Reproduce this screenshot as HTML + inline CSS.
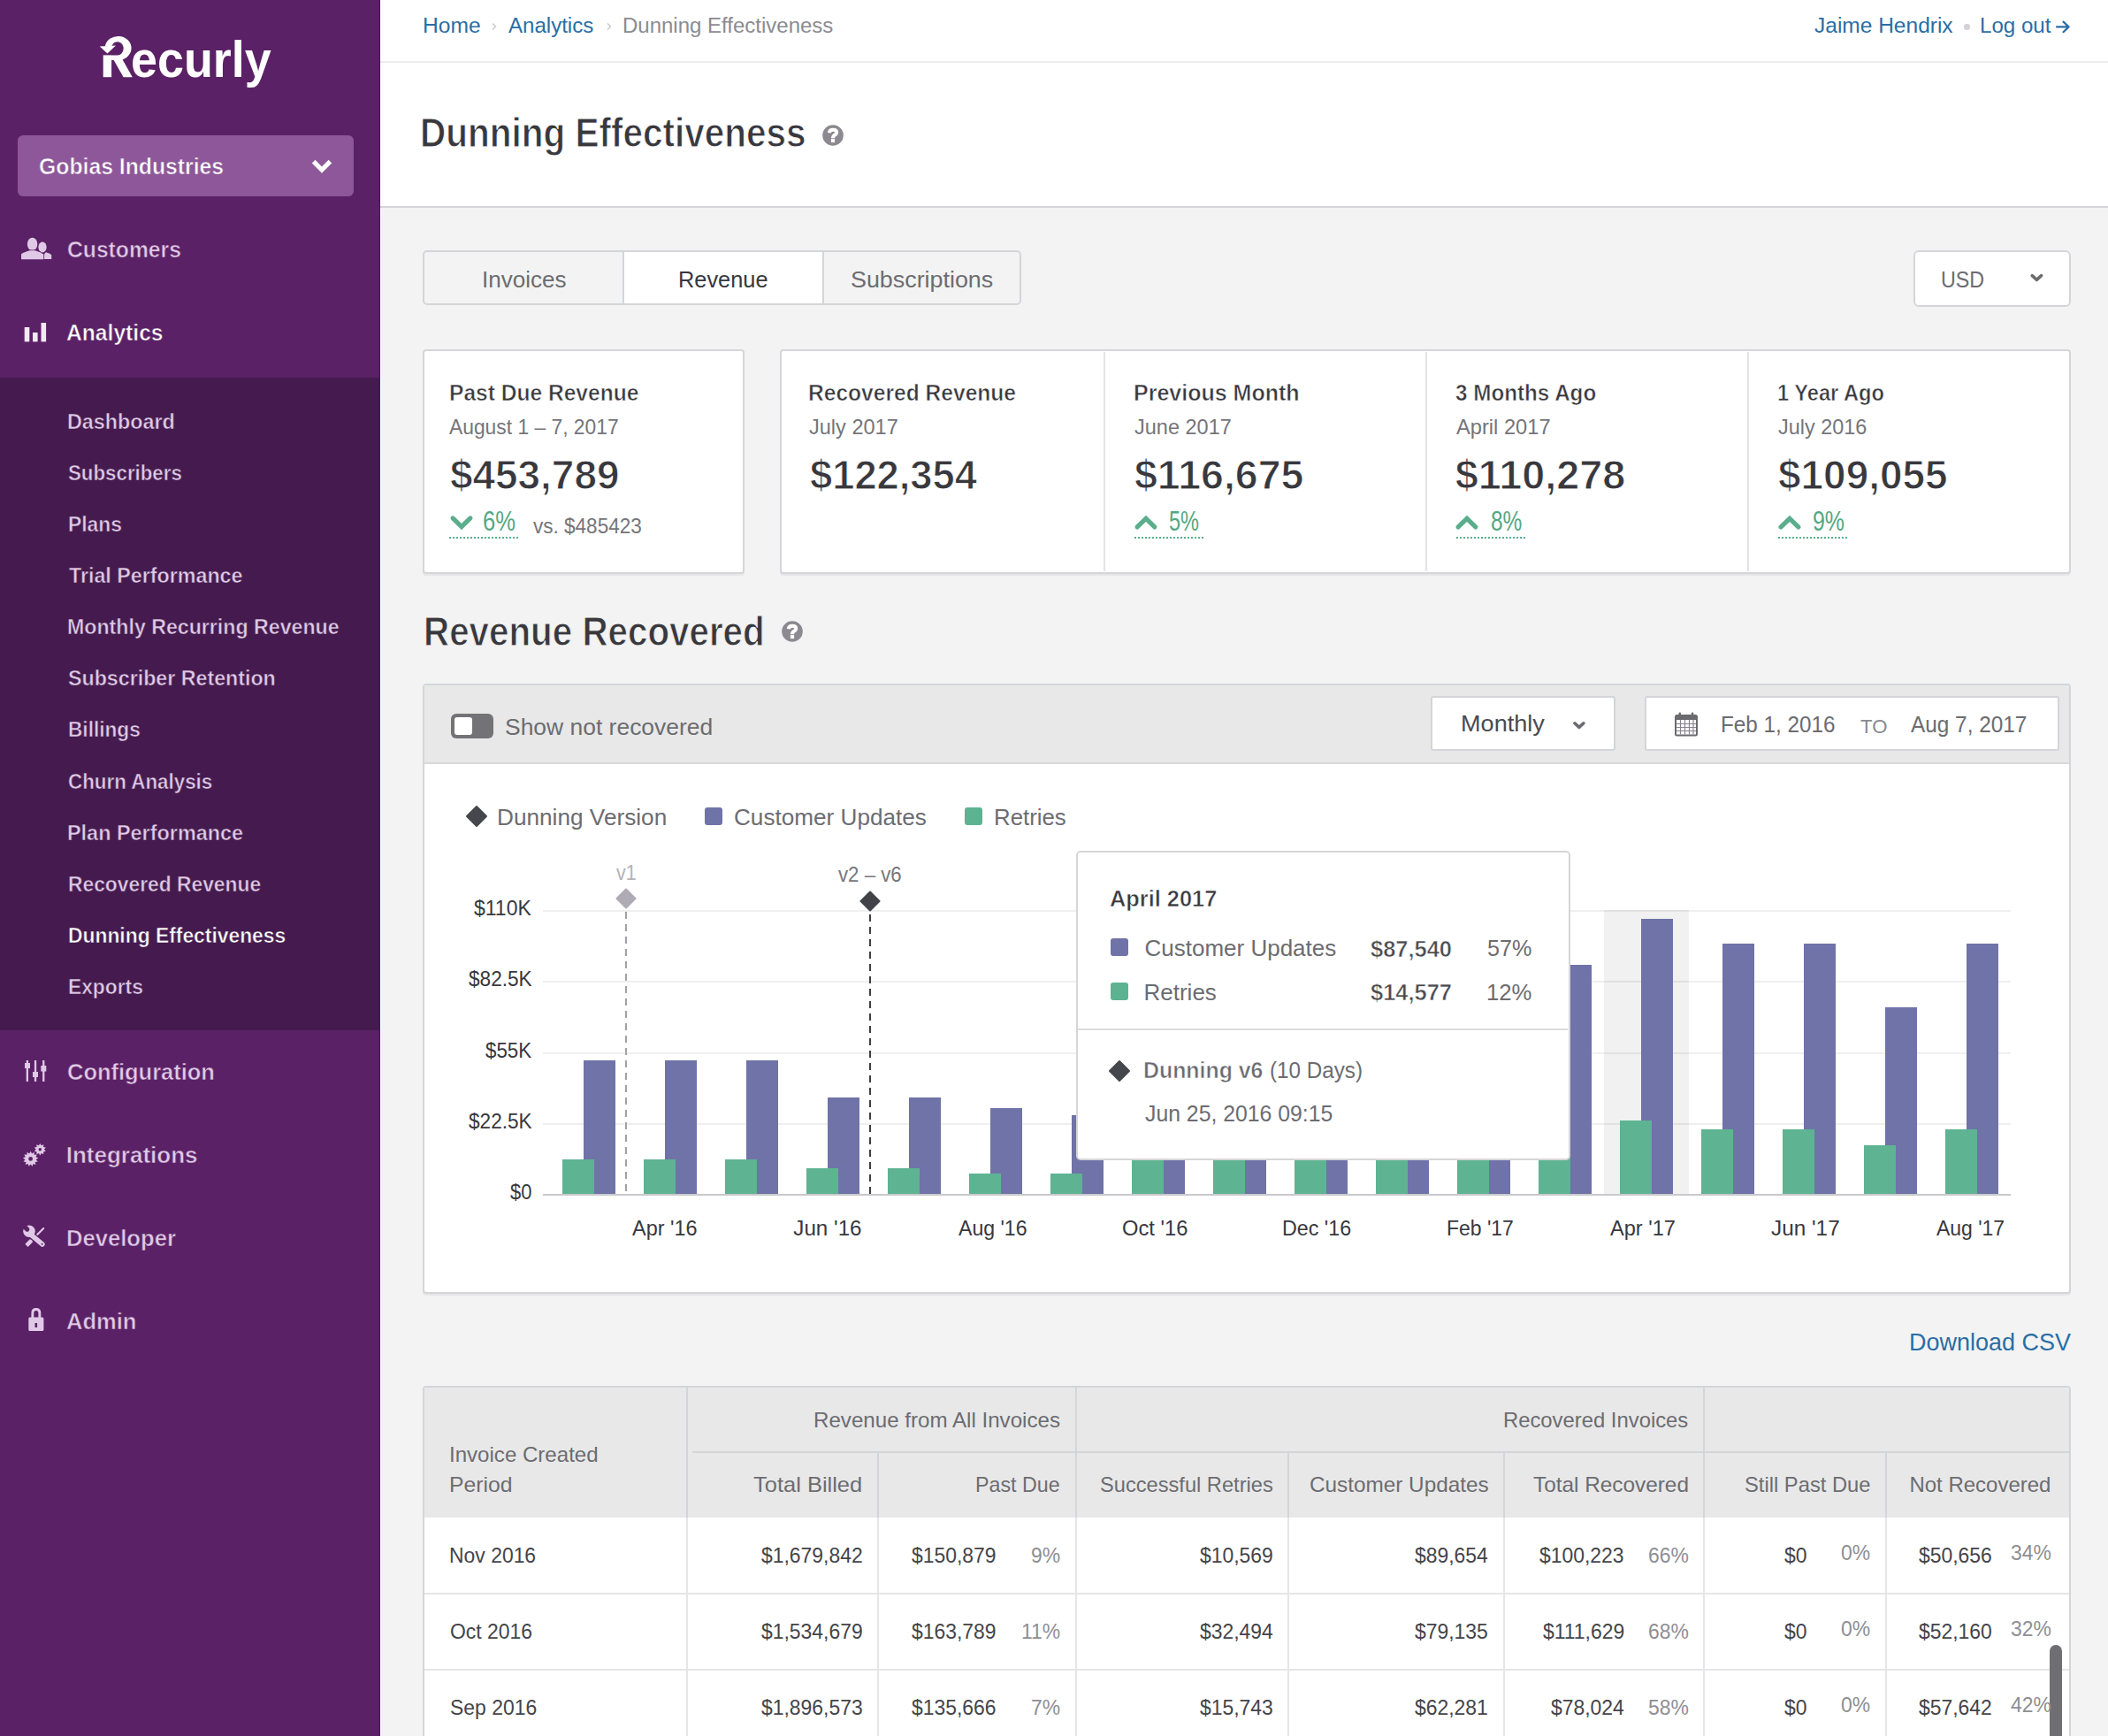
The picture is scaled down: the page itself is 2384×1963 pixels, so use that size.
<!DOCTYPE html><html><head><meta charset="utf-8"><title>Dunning Effectiveness</title><style>
*{margin:0;padding:0;box-sizing:border-box}
html,body{width:2384px;height:1963px;overflow:hidden}
body{position:relative;background:#f3f3f3;font-family:"Liberation Sans",sans-serif}
.a{position:absolute}
.t{position:absolute;white-space:nowrap;line-height:1;transform-origin:0 0;font-family:"Liberation Sans",sans-serif}
svg{position:absolute;overflow:visible}
</style></head><body>
<div class="a" style="left:0px;top:0px;width:430px;height:1963px;background:#5b2166"></div>
<div class="a" style="left:0px;top:427px;width:430px;height:738px;background:#451b4f"></div>
<div class="a" style="left:429px;top:0px;width:1px;height:1963px;background:#4f1659"></div>
<div class="a" style="left:430px;top:0px;width:1px;height:1963px;background:#ffffff"></div>
<div class="a" style="left:430px;top:0px;width:1954px;height:233px;background:#ffffff"></div>
<div class="a" style="left:430px;top:69px;width:1954px;height:2px;background:#ededed"></div>
<div class="a" style="left:430px;top:233px;width:1954px;height:2px;background:#d4d5d8"></div>
<div class="a" style="left:20px;top:153px;width:380px;height:69px;background:#8d5799;border-radius:6px"></div>
<svg style="left:0;top:0" width="1" height="1"><polyline points="354.6,182.7 364,192.1 373.4,182.7" fill="none" stroke="#fff" stroke-width="5.2" stroke-linecap="butt" stroke-linejoin="miter"/></svg>
<svg style="left:0;top:0" width="1" height="1"><g fill="#fff">
<rect x="116.7" y="62.4" width="9.4" height="24.8"/>
<path d="M127.5,66 L137.8,66 L149.8,87.2 L139.6,87.2 Z"/>
<path d="M118.8,52 A15,13.6 0 1 1 133.5,68.1 L126,68.1 L126,62.4 L133,62.4 A6.9,7.6 0 1 0 126.4,52 Z"/>
<path d="M112.8,52.6 L131,51.6 L121.4,60.6 Z"/>
</g></svg>
<div class="t" style="left:148px;top:39.3px;font-size:57px;font-weight:700;color:#fff;transform:scaleX(0.945)">ecurly</div>
<svg style="left:0;top:0" width="1" height="1">
<g fill="#e0c9e7"><ellipse cx="48" cy="279.6" rx="4.6" ry="6"/><path d="M50,293 L50,288 Q50.5,286 52,285.2 Q56,286.4 58.2,288.3 L58.2,293 Z"/></g>
<g fill="#e0c9e7" stroke="#5b2166" stroke-width="1.6" paint-order="stroke"><ellipse cx="36.6" cy="276.1" rx="5.7" ry="7.4"/><path d="M24,293.2 L24,287.6 Q27,285 33.6,283.3 L39.6,283.3 Q46,285 49.3,287.6 L49.3,293.2 Z"/></g>
<g fill="#f3eaf5"><rect x="27.7" y="370" width="5.6" height="16.4"/><rect x="37" y="376" width="5.6" height="10.4"/><rect x="46.5" y="365" width="5.6" height="21.4"/></g>
<g fill="#e0c9e7"><rect x="29.7" y="1199" width="2.3" height="24"/><rect x="38.9" y="1199" width="2.3" height="24"/><rect x="48.1" y="1199" width="2.3" height="24"/>
<rect x="28" y="1202" width="6" height="6"/><rect x="37" y="1212" width="6" height="6"/><rect x="46.3" y="1205" width="6" height="6.5"/></g>
<path fill="#e0c9e7" fill-rule="evenodd" d="M34.60,1301.70 L36.08,1304.38 L38.64,1302.70 L38.71,1305.76 L41.76,1305.46 L40.40,1308.20 L43.24,1309.35 L40.75,1311.15 L42.73,1313.49 L39.70,1313.92 L40.37,1316.91 L37.48,1315.89 L36.68,1318.85 L34.60,1316.60 L32.52,1318.85 L31.72,1315.89 L28.83,1316.91 L29.50,1313.92 L26.47,1313.49 L28.45,1311.15 L25.96,1309.35 L28.80,1308.20 L27.44,1305.46 L30.49,1305.76 L30.56,1302.70 L33.12,1304.38 Z M32.20,1310.40 a2.40,2.40 0 1 0 4.80,0 a2.40,2.40 0 1 0 -4.80,0 Z"/><path fill="#e0c9e7" fill-rule="evenodd" d="M45.30,1292.90 L46.72,1295.33 L49.30,1294.20 L49.02,1297.00 L51.77,1297.60 L49.90,1299.70 L51.77,1301.80 L49.02,1302.40 L49.30,1305.20 L46.72,1304.07 L45.30,1306.50 L43.88,1304.07 L41.30,1305.20 L41.58,1302.40 L38.83,1301.80 L40.70,1299.70 L38.83,1297.60 L41.58,1297.00 L41.30,1294.20 L43.88,1295.33 Z M43.50,1299.70 a1.80,1.80 0 1 0 3.60,0 a1.80,1.80 0 1 0 -3.60,0 Z"/>
<g stroke="#e0c9e7" stroke-linecap="round"><line x1="30" y1="1408.3" x2="35.6" y2="1402.7" stroke-width="4.6" stroke-linecap="butt"/><line x1="35" y1="1403.3" x2="49.2" y2="1389.1" stroke-width="2.1"/></g>
<g fill="#e0c9e7" stroke="#5b2166" stroke-width="1.3" paint-order="stroke"><path d="M37,1396 L48.6,1407.3" stroke="none"/></g>
<line x1="35.5" y1="1396.6" x2="47.8" y2="1406.9" stroke="#5b2166" stroke-width="8.3" stroke-linecap="round"/>
<circle cx="33" cy="1392.3" r="8" fill="#5b2166"/>
<line x1="35.5" y1="1396.6" x2="47.8" y2="1406.9" stroke="#e0c9e7" stroke-width="5.7" stroke-linecap="round"/>
<circle cx="33" cy="1392.3" r="6.8" fill="#e0c9e7"/>
<circle cx="47.6" cy="1406.8" r="1" fill="#5b2166"/>
<path d="M26.92,1382.54 L32.58,1388.2 A2.6,2.6 0 0 1 28.9,1391.88 L23.24,1386.22 Z" fill="#5b2166"/>
<g fill="#e0c9e7"><rect x="32.3" y="1489.6" width="17.1" height="15.4" rx="1.5"/><path d="M35.4,1490 L35.4,1484.5 Q35.4,1479 40.8,1479 Q46.3,1479 46.3,1484.5 L46.3,1490 L43.4,1490 L43.4,1485 Q43.4,1482 40.8,1482 Q38.3,1482 38.3,1485 L38.3,1490 Z"/></g>
<rect x="39.5" y="1496" width="2.6" height="5" fill="#5b2166"/>
</svg>
<svg style="left:0;top:0" width="1" height="1"><path d="M557,26.5 L560.5,30 L557,33.5 M687,26.5 L690.5,30 L687,33.5" fill="none" stroke="#cdcdd1" stroke-width="1.6"/></svg>
<div class="a" style="left:2221px;top:27px;width:6.5px;height:6.5px;background:#d3d3d6;border-radius:50%"></div>
<svg style="left:0;top:0" width="1" height="1"><g fill="none" stroke="#2a6ea5" stroke-width="2.2" stroke-linecap="round" stroke-linejoin="round"><path d="M2326,30.4 L2339.5,30.4 M2333.5,24.6 L2339.6,30.4 L2333.5,36.2"/></g></svg>
<svg style="left:0;top:0" width="1" height="1"><circle cx="942" cy="153" r="11.8" fill="#8c8990"/><path d="M937.8,150.3 Q938.2,146.7 942,146.7 Q946.2,146.7 946.2,149.7 Q946.2,151.4 943.9,152.7 Q942,153.8 942,156.2" fill="none" stroke="#fff" stroke-width="4"/><rect x="939.9" y="157.1" width="4.2" height="4" fill="#fff"/></svg>
<svg style="left:0;top:0" width="1" height="1"><circle cx="896" cy="714" r="11.8" fill="#8c8990"/><path d="M891.8,711.3 Q892.2,707.7 896,707.7 Q900.2,707.7 900.2,710.7 Q900.2,712.4 897.9,713.7 Q896,714.8 896,717.2" fill="none" stroke="#fff" stroke-width="4"/><rect x="893.9" y="718.1" width="4.2" height="4" fill="#fff"/></svg>
<div class="a" style="left:478px;top:283px;width:677px;height:62px;border:2px solid #d4d5d8;border-radius:5px;background:#f3f3f3"></div>
<div class="a" style="left:705px;top:285px;width:226px;height:58px;background:#fff"></div>
<div class="a" style="left:704px;top:285px;width:2px;height:58px;background:#d4d5d8"></div>
<div class="a" style="left:930px;top:285px;width:2px;height:58px;background:#d4d5d8"></div>
<div class="a" style="left:2164px;top:283px;width:178px;height:64px;border:2px solid #d4d5d8;border-radius:6px;background:#fff"></div>
<svg style="left:0;top:0" width="1" height="1"><polyline points="2298.2,311.7 2303.4,316.4 2308.6,311.7" fill="none" stroke="#6c6c70" stroke-width="3.6" stroke-linecap="round" stroke-linejoin="round"/></svg>
<div class="a" style="left:478px;top:395px;width:364px;height:254px;border:2px solid #d4d5d8;border-radius:4px;background:#fff;box-shadow:0 2px 0 #e6e6e7"></div>
<div class="a" style="left:882px;top:395px;width:1460px;height:254px;border:2px solid #d4d5d8;border-radius:4px;background:#fff;box-shadow:0 2px 0 #e6e6e7"></div>
<div class="a" style="left:1248px;top:398px;width:2px;height:248px;background:#e3e3e5"></div>
<div class="a" style="left:1612px;top:398px;width:2px;height:248px;background:#e3e3e5"></div>
<div class="a" style="left:1976px;top:398px;width:2px;height:248px;background:#e3e3e5"></div>
<svg style="left:0;top:0" width="1" height="1"><polyline points="512.1,585.9 522,595.6 531.9,585.9" fill="none" stroke="#5aae8c" stroke-width="5.2" stroke-linecap="round"/></svg>
<svg style="left:0;top:0" width="1" height="1"><polyline points="1286.1,595.9 1296,586.3 1305.8,595.9" fill="none" stroke="#5aae8c" stroke-width="5.2" stroke-linecap="round"/></svg>
<svg style="left:0;top:0" width="1" height="1"><polyline points="1649.1,595.9 1659,586.3 1668.8,595.9" fill="none" stroke="#5aae8c" stroke-width="5.2" stroke-linecap="round"/></svg>
<svg style="left:0;top:0" width="1" height="1"><polyline points="2014.1,595.9 2024,586.3 2033.8,595.9" fill="none" stroke="#5aae8c" stroke-width="5.2" stroke-linecap="round"/></svg>
<div class="a" style="left:508px;top:607px;width:78px;height:2px;background:repeating-linear-gradient(90deg,#5aae8c 0 2px,transparent 2px 4px)"></div>
<div class="a" style="left:1282.5px;top:607px;width:78px;height:2px;background:repeating-linear-gradient(90deg,#5aae8c 0 2px,transparent 2px 4px)"></div>
<div class="a" style="left:1646.5px;top:607px;width:78px;height:2px;background:repeating-linear-gradient(90deg,#5aae8c 0 2px,transparent 2px 4px)"></div>
<div class="a" style="left:2011px;top:607px;width:78px;height:2px;background:repeating-linear-gradient(90deg,#5aae8c 0 2px,transparent 2px 4px)"></div>
<div class="a" style="left:478px;top:773px;width:1864px;height:690px;border:2px solid #d4d5d8;border-radius:4px;background:#fff;box-shadow:0 2px 0 #e6e6e7"></div>
<div class="a" style="left:480px;top:775px;width:1860px;height:89px;background:#e8e8e8;border-bottom:2px solid #d8d8da;border-radius:3px 3px 0 0"></div>
<div class="a" style="left:510px;top:807px;width:48px;height:28px;background:#737377;border-radius:6px"></div>
<div class="a" style="left:514px;top:811px;width:20px;height:20px;background:#fff;border-radius:3px"></div>
<div class="a" style="left:1618px;top:787px;width:209px;height:62px;background:#fff;border:2px solid #d4d5d8;border-radius:3px"></div>
<svg style="left:0;top:0" width="1" height="1"><polyline points="1780.9,817.8 1785.9,822.4 1790.9,817.8" fill="none" stroke="#6a6a6f" stroke-width="3.6" stroke-linecap="round" stroke-linejoin="round"/></svg>
<div class="a" style="left:1860px;top:787px;width:469px;height:62px;background:#fff;border:2px solid #d4d5d8;border-radius:3px"></div>
<svg style="left:0;top:0" width="1" height="1"><g>
<rect x="1895" y="809" width="24" height="22.5" rx="1.5" fill="none" stroke="#6a6a6f" stroke-width="2"/>
<rect x="1895" y="809" width="24" height="5" fill="#6a6a6f"/>
<rect x="1898.5" y="805.5" width="2.5" height="6" rx="1.2" fill="#6a6a6f"/><rect x="1912.8" y="805.5" width="2.5" height="6" rx="1.2" fill="#6a6a6f"/>
<path d="M1900.5,814 V830.5 M1905.5,814 V830.5 M1910.5,814 V830.5 M1915,814 V830.5 M1896,818.5 H1918 M1896,822.5 H1918 M1896,826.5 H1918" stroke="#8a8290" stroke-width="1.2"/>
</g></svg>
<svg style="left:0;top:0" width="1" height="1"><path d="M539,912 L550,923 L539,934 L528,923 Z" fill="#45474c" stroke="#45474c" stroke-width="2" stroke-linejoin="round"/></svg>
<div class="a" style="left:797px;top:913px;width:20px;height:20px;background:#6f73a8;border-radius:3px"></div>
<div class="a" style="left:1091px;top:913px;width:20px;height:20px;background:#5db391;border-radius:3px"></div>
<div class="a" style="left:1814px;top:1029px;width:96px;height:322px;background:#f1f1f1"></div>
<div class="a" style="left:614px;top:1029px;width:1660px;height:2px;background:rgba(0,0,0,0.063)"></div>
<div class="a" style="left:614px;top:1109px;width:1660px;height:2px;background:rgba(0,0,0,0.063)"></div>
<div class="a" style="left:614px;top:1190px;width:1660px;height:2px;background:rgba(0,0,0,0.063)"></div>
<div class="a" style="left:614px;top:1270px;width:1660px;height:2px;background:rgba(0,0,0,0.063)"></div>
<div class="a" style="left:660px;top:1199px;width:36px;height:152px;background:#6f73a8"></div>
<div class="a" style="left:636px;top:1311px;width:36px;height:40px;background:#5eb392"></div>
<div class="a" style="left:752px;top:1199px;width:36px;height:152px;background:#6f73a8"></div>
<div class="a" style="left:728px;top:1311px;width:36px;height:40px;background:#5eb392"></div>
<div class="a" style="left:844px;top:1199px;width:36px;height:152px;background:#6f73a8"></div>
<div class="a" style="left:820px;top:1311px;width:36px;height:40px;background:#5eb392"></div>
<div class="a" style="left:936px;top:1241px;width:36px;height:110px;background:#6f73a8"></div>
<div class="a" style="left:912px;top:1321px;width:36px;height:30px;background:#5eb392"></div>
<div class="a" style="left:1028px;top:1241px;width:36px;height:110px;background:#6f73a8"></div>
<div class="a" style="left:1004px;top:1321px;width:36px;height:30px;background:#5eb392"></div>
<div class="a" style="left:1120px;top:1253px;width:36px;height:98px;background:#6f73a8"></div>
<div class="a" style="left:1096px;top:1327px;width:36px;height:24px;background:#5eb392"></div>
<div class="a" style="left:1212px;top:1261px;width:36px;height:90px;background:#6f73a8"></div>
<div class="a" style="left:1188px;top:1327px;width:36px;height:24px;background:#5eb392"></div>
<div class="a" style="left:1304px;top:1150px;width:36px;height:201px;background:#6f73a8"></div>
<div class="a" style="left:1280px;top:1290px;width:36px;height:61px;background:#5eb392"></div>
<div class="a" style="left:1396px;top:1140px;width:36px;height:211px;background:#6f73a8"></div>
<div class="a" style="left:1372px;top:1285px;width:36px;height:66px;background:#5eb392"></div>
<div class="a" style="left:1488px;top:1120px;width:36px;height:231px;background:#6f73a8"></div>
<div class="a" style="left:1464px;top:1280px;width:36px;height:71px;background:#5eb392"></div>
<div class="a" style="left:1580px;top:1130px;width:36px;height:221px;background:#6f73a8"></div>
<div class="a" style="left:1556px;top:1285px;width:36px;height:66px;background:#5eb392"></div>
<div class="a" style="left:1672px;top:1110px;width:36px;height:241px;background:#6f73a8"></div>
<div class="a" style="left:1648px;top:1285px;width:36px;height:66px;background:#5eb392"></div>
<div class="a" style="left:1764px;top:1091px;width:36px;height:260px;background:#6f73a8"></div>
<div class="a" style="left:1740px;top:1275px;width:36px;height:76px;background:#5eb392"></div>
<div class="a" style="left:1856px;top:1039px;width:36px;height:312px;background:#6f73a8"></div>
<div class="a" style="left:1832px;top:1267px;width:36px;height:84px;background:#5eb392"></div>
<div class="a" style="left:1948px;top:1067px;width:36px;height:284px;background:#6f73a8"></div>
<div class="a" style="left:1924px;top:1277px;width:36px;height:74px;background:#5eb392"></div>
<div class="a" style="left:2040px;top:1067px;width:36px;height:284px;background:#6f73a8"></div>
<div class="a" style="left:2016px;top:1277px;width:36px;height:74px;background:#5eb392"></div>
<div class="a" style="left:2132px;top:1139px;width:36px;height:212px;background:#6f73a8"></div>
<div class="a" style="left:2108px;top:1295px;width:36px;height:56px;background:#5eb392"></div>
<div class="a" style="left:2224px;top:1067px;width:36px;height:284px;background:#6f73a8"></div>
<div class="a" style="left:2200px;top:1277px;width:36px;height:74px;background:#5eb392"></div>
<div class="a" style="left:614px;top:1350px;width:1660px;height:2px;background:#c9c9cd"></div>
<svg style="left:0;top:0" width="1" height="1"><line x1="708" y1="1031" x2="708" y2="1350" stroke="#a3a0aa" stroke-width="2" stroke-dasharray="8 6"/><line x1="984" y1="1034" x2="984" y2="1350" stroke="#3e3e43" stroke-width="2" stroke-dasharray="8 6"/></svg>
<svg style="left:0;top:0" width="1" height="1"><path d="M708,1005.5 L718.5,1016 L708,1026.5 L697.5,1016 Z" fill="#aeabb5" stroke="#aeabb5" stroke-width="2" stroke-linejoin="round"/></svg>
<svg style="left:0;top:0" width="1" height="1"><path d="M984,1008.5 L994.5,1019 L984,1029.5 L973.5,1019 Z" fill="#414348" stroke="#414348" stroke-width="2" stroke-linejoin="round"/></svg>
<div class="a" style="left:1217px;top:962px;width:559px;height:350px;background:#fff;border:2px solid #d6d6d8;border-radius:5px"></div>
<div class="a" style="left:1219px;top:1163px;width:554px;height:2px;background:#dcdcde"></div>
<div class="a" style="left:1256px;top:1061px;width:20px;height:20px;background:#6f73a8;border-radius:3px"></div>
<div class="a" style="left:1256px;top:1111px;width:20px;height:20px;background:#5db391;border-radius:3px"></div>
<svg style="left:0;top:0" width="1" height="1"><path d="M1266,1200 L1277,1211 L1266,1222 L1255,1211 Z" fill="#45474c" stroke="#45474c" stroke-width="2" stroke-linejoin="round"/></svg>
<div class="a" style="left:478px;top:1567px;width:1864px;height:420px;border:2px solid #d4d5d8;border-radius:4px;background:#fff"></div>
<div class="a" style="left:480px;top:1569px;width:1860px;height:147px;background:#e8e8e8;border-radius:3px 3px 0 0"></div>
<div class="a" style="left:776px;top:1569px;width:2px;height:147px;background:#d4d5d8"></div>
<div class="a" style="left:776px;top:1716px;width:2px;height:260px;background:#e6e6e8"></div>
<div class="a" style="left:1216px;top:1569px;width:2px;height:147px;background:#d4d5d8"></div>
<div class="a" style="left:1216px;top:1716px;width:2px;height:260px;background:#e6e6e8"></div>
<div class="a" style="left:1926px;top:1569px;width:2px;height:147px;background:#d4d5d8"></div>
<div class="a" style="left:1926px;top:1716px;width:2px;height:260px;background:#e6e6e8"></div>
<div class="a" style="left:783px;top:1641px;width:1557px;height:2px;background:#d4d5d8"></div>
<div class="a" style="left:992px;top:1643px;width:2px;height:73px;background:#d4d5d8"></div>
<div class="a" style="left:992px;top:1716px;width:2px;height:260px;background:#e6e6e8"></div>
<div class="a" style="left:1456px;top:1643px;width:2px;height:73px;background:#d4d5d8"></div>
<div class="a" style="left:1456px;top:1716px;width:2px;height:260px;background:#e6e6e8"></div>
<div class="a" style="left:1700px;top:1643px;width:2px;height:73px;background:#d4d5d8"></div>
<div class="a" style="left:1700px;top:1716px;width:2px;height:260px;background:#e6e6e8"></div>
<div class="a" style="left:2132px;top:1643px;width:2px;height:73px;background:#d4d5d8"></div>
<div class="a" style="left:2132px;top:1716px;width:2px;height:260px;background:#e6e6e8"></div>
<div class="a" style="left:480px;top:1801px;width:1860px;height:2px;background:#e6e6e8"></div>
<div class="a" style="left:480px;top:1887px;width:1860px;height:2px;background:#e6e6e8"></div>
<div class="a" style="left:2318px;top:1860px;width:14px;height:110px;background:#6f6f73;border-radius:7px"></div>
<div class="t" style="left:43.96px;top:176.44px;font-size:25.7px;font-weight:700;color:#ffffff;transform:scaleX(0.9639);-webkit-text-stroke:0.57px #8d5799;">Gobias Industries</div>
<div class="t" style="left:75.98px;top:268.79px;font-size:26px;font-weight:700;color:#e0cae7;transform:scaleX(0.9488);-webkit-text-stroke:0.57px #5b2166;">Customers</div>
<div class="t" style="left:75.38px;top:362.79px;font-size:26px;font-weight:700;color:#ffffff;transform:scaleX(0.9477);-webkit-text-stroke:0.57px #5b2166;">Analytics</div>
<div class="t" style="left:75.94px;top:1198.79px;font-size:26px;font-weight:700;color:#e0cae7;transform:scaleX(0.9795);-webkit-text-stroke:0.57px #5b2166;">Configuration</div>
<div class="t" style="left:74.71px;top:1292.79px;font-size:26px;font-weight:700;color:#e0cae7;-webkit-text-stroke:0.57px #5b2166;">Integrations</div>
<div class="t" style="left:74.75px;top:1386.79px;font-size:26px;font-weight:700;color:#e0cae7;transform:scaleX(0.9851);-webkit-text-stroke:0.57px #5b2166;">Developer</div>
<div class="t" style="left:74.74px;top:1480.79px;font-size:26px;font-weight:700;color:#e0cae7;transform:scaleX(0.9816);-webkit-text-stroke:0.57px #5b2166;">Admin</div>
<div class="t" style="left:76.45px;top:465.08px;font-size:24.7px;font-weight:700;color:#e0cae7;transform:scaleX(0.9449);-webkit-text-stroke:0.54px #451b4f;">Dashboard</div>
<div class="t" style="left:77.45px;top:523.14px;font-size:24.7px;font-weight:700;color:#e0cae7;transform:scaleX(0.9028);-webkit-text-stroke:0.54px #451b4f;">Subscribers</div>
<div class="t" style="left:76.5px;top:581.2px;font-size:24.7px;font-weight:700;color:#e0cae7;transform:scaleX(0.9254);-webkit-text-stroke:0.54px #451b4f;">Plans</div>
<div class="t" style="left:78.34px;top:639.26px;font-size:24.7px;font-weight:700;color:#e0cae7;transform:scaleX(0.9419);-webkit-text-stroke:0.54px #451b4f;">Trial Performance</div>
<div class="t" style="left:76.47px;top:697.32px;font-size:24.7px;font-weight:700;color:#e0cae7;transform:scaleX(0.9382);-webkit-text-stroke:0.54px #451b4f;">Monthly Recurring Revenue</div>
<div class="t" style="left:77.4px;top:755.38px;font-size:24.7px;font-weight:700;color:#e0cae7;transform:scaleX(0.9405);-webkit-text-stroke:0.54px #451b4f;">Subscriber Retention</div>
<div class="t" style="left:76.52px;top:813.44px;font-size:24.7px;font-weight:700;color:#e0cae7;transform:scaleX(0.9174);-webkit-text-stroke:0.54px #451b4f;">Billings</div>
<div class="t" style="left:77.45px;top:871.5px;font-size:24.7px;font-weight:700;color:#e0cae7;transform:scaleX(0.9061);-webkit-text-stroke:0.54px #451b4f;">Churn Analysis</div>
<div class="t" style="left:76.45px;top:929.56px;font-size:24.7px;font-weight:700;color:#e0cae7;transform:scaleX(0.9484);-webkit-text-stroke:0.54px #451b4f;">Plan Performance</div>
<div class="t" style="left:76.5px;top:987.62px;font-size:24.7px;font-weight:700;color:#e0cae7;transform:scaleX(0.9240);-webkit-text-stroke:0.54px #451b4f;">Recovered Revenue</div>
<div class="t" style="left:76.5px;top:1045.68px;font-size:24.7px;font-weight:700;color:#ffffff;transform:scaleX(0.9251);-webkit-text-stroke:0.54px #451b4f;">Dunning Effectiveness</div>
<div class="t" style="left:76.5px;top:1103.74px;font-size:24.7px;font-weight:700;color:#e0cae7;transform:scaleX(0.9225);-webkit-text-stroke:0.54px #451b4f;">Exports</div>
<div class="t" style="left:478.27px;top:16.83px;font-size:24.2px;font-weight:400;color:#2a6ea5;transform:scaleX(1.0164);">Home</div>
<div class="t" style="left:575.1px;top:16.83px;font-size:24.2px;font-weight:400;color:#2a6ea5;transform:scaleX(0.9948);">Analytics</div>
<div class="t" style="left:703.52px;top:16.83px;font-size:24.2px;font-weight:400;color:#8b8b91;transform:scaleX(0.9920);">Dunning Effectiveness</div>
<div class="t" style="left:2052.49px;top:16.83px;font-size:24.2px;font-weight:400;color:#2a6ea5;transform:scaleX(1.0131);">Jaime Hendrix</div>
<div class="t" style="left:2238.71px;top:16.83px;font-size:24.2px;font-weight:400;color:#2a6ea5;transform:scaleX(0.9962);">Log out</div>
<div class="t" style="left:474.68px;top:127.63px;font-size:45.5px;font-weight:700;color:#38383d;transform:scaleX(0.8901);-webkit-text-stroke:1.00px #ffffff;">Dunning Effectiveness</div>
<div class="t" style="left:545.05px;top:302.9px;font-size:26.7px;font-weight:400;color:#6c6c71;transform:scaleX(0.9768);">Invoices</div>
<div class="t" style="left:767.3px;top:302.9px;font-size:26.7px;font-weight:400;color:#38383d;transform:scaleX(0.9500);">Revenue</div>
<div class="t" style="left:961.79px;top:302.9px;font-size:26.7px;font-weight:400;color:#6c6c71;transform:scaleX(1.0064);">Subscriptions</div>
<div class="t" style="left:2194.66px;top:302.9px;font-size:26.7px;font-weight:400;color:#6c6c71;transform:scaleX(0.8717);">USD</div>
<div class="t" style="left:507.92px;top:431.85px;font-size:25.8px;font-weight:700;color:#38383d;transform:scaleX(0.9524);-webkit-text-stroke:0.57px #ffffff;">Past Due Revenue</div>
<div class="t" style="left:508.3px;top:470.94px;font-size:24.3px;font-weight:400;color:#75757a;transform:scaleX(0.9394);">August 1 – 7, 2017</div>
<div class="t" style="left:508.71px;top:514.33px;font-size:46.8px;font-weight:700;color:#38383d;transform:scaleX(0.9809);-webkit-text-stroke:1.03px #ffffff;">$453,789</div>
<div class="t" style="left:914.12px;top:431.85px;font-size:25.8px;font-weight:700;color:#38383d;transform:scaleX(0.9530);-webkit-text-stroke:0.57px #ffffff;">Recovered Revenue</div>
<div class="t" style="left:914.83px;top:470.94px;font-size:24.3px;font-weight:400;color:#75757a;transform:scaleX(0.9686);">July 2017</div>
<div class="t" style="left:915.73px;top:514.33px;font-size:46.8px;font-weight:700;color:#38383d;transform:scaleX(0.9680);-webkit-text-stroke:1.03px #ffffff;">$122,354</div>
<div class="t" style="left:1282.09px;top:431.85px;font-size:25.8px;font-weight:700;color:#38383d;transform:scaleX(0.9697);-webkit-text-stroke:0.57px #ffffff;">Previous Month</div>
<div class="t" style="left:1282.83px;top:470.94px;font-size:24.3px;font-weight:400;color:#75757a;transform:scaleX(0.9676);">June 2017</div>
<div class="t" style="left:1283.09px;top:514.33px;font-size:46.8px;font-weight:700;color:#38383d;transform:scaleX(0.9938);-webkit-text-stroke:1.03px #ffffff;">$116,675</div>
<div class="t" style="left:1646.09px;top:431.85px;font-size:25.8px;font-weight:700;color:#38383d;transform:scaleX(0.9389);-webkit-text-stroke:0.57px #ffffff;">3 Months Ago</div>
<div class="t" style="left:1646.8px;top:470.94px;font-size:24.3px;font-weight:400;color:#75757a;transform:scaleX(0.9741);">April 2017</div>
<div class="t" style="left:1645.69px;top:514.33px;font-size:46.8px;font-weight:700;color:#38383d;-webkit-text-stroke:1.03px #ffffff;">$110,278</div>
<div class="t" style="left:2010.21px;top:431.85px;font-size:25.8px;font-weight:700;color:#38383d;transform:scaleX(0.9164);-webkit-text-stroke:0.57px #ffffff;">1 Year Ago</div>
<div class="t" style="left:2010.84px;top:470.94px;font-size:24.3px;font-weight:400;color:#75757a;transform:scaleX(0.9647);">July 2016</div>
<div class="t" style="left:2010.71px;top:514.33px;font-size:46.8px;font-weight:700;color:#38383d;transform:scaleX(0.9814);-webkit-text-stroke:1.03px #ffffff;">$109,055</div>
<div class="t" style="left:545.92px;top:574.08px;font-size:30.5px;font-weight:400;color:#52a882;transform:scaleX(0.8390);">6%</div>
<div class="t" style="left:603px;top:582.83px;font-size:24.2px;font-weight:400;color:#75757a;transform:scaleX(0.9313);">vs. $485423</div>
<div class="t" style="left:1322.43px;top:574.08px;font-size:30.5px;font-weight:400;color:#52a882;transform:scaleX(0.7714);">5%</div>
<div class="t" style="left:1685.7px;top:574.08px;font-size:30.5px;font-weight:400;color:#52a882;transform:scaleX(0.8024);">8%</div>
<div class="t" style="left:2049.77px;top:574.08px;font-size:30.5px;font-weight:400;color:#52a882;transform:scaleX(0.8171);">9%</div>
<div class="t" style="left:478.79px;top:691.71px;font-size:45.4px;font-weight:700;color:#38383d;transform:scaleX(0.8888);-webkit-text-stroke:1.00px #f3f3f3;">Revenue Recovered</div>
<div class="t" style="left:571.19px;top:809.25px;font-size:26.3px;font-weight:400;color:#6c6c71;transform:scaleX(1.0057);">Show not recovered</div>
<div class="t" style="left:1652.04px;top:805.14px;font-size:26.3px;font-weight:400;color:#4a4a4f;transform:scaleX(1.0300);">Monthly</div>
<div class="t" style="left:1946.29px;top:806.61px;font-size:25.4px;font-weight:400;color:#6c6c71;transform:scaleX(0.9556);">Feb 1, 2016</div>
<div class="t" style="left:2104.31px;top:811.18px;font-size:22.5px;font-weight:400;color:#8a8a8f;transform:scaleX(0.9862);">TO</div>
<div class="t" style="left:2160.5px;top:806.61px;font-size:25.4px;font-weight:400;color:#6c6c71;transform:scaleX(0.9596);">Aug 7, 2017</div>
<div class="t" style="left:561.79px;top:911.1px;font-size:26px;font-weight:400;color:#6c6c71;transform:scaleX(1.0075);">Dunning Version</div>
<div class="t" style="left:830.49px;top:911.1px;font-size:26px;font-weight:400;color:#6c6c71;transform:scaleX(1.0051);">Customer Updates</div>
<div class="t" style="left:1123.82px;top:911.1px;font-size:26px;font-weight:400;color:#6c6c71;transform:scaleX(0.9924);">Retries</div>
<div class="t" style="left:696.55px;top:975.65px;font-size:23px;font-weight:400;color:#b4b2b9;transform:scaleX(0.9348);">v1</div>
<div class="t" style="left:948.3px;top:977.55px;font-size:23px;font-weight:400;color:#76767b;transform:scaleX(0.9671);">v2 – v6</div>
<div class="t" style="left:536.4px;top:1014.83px;font-size:24.2px;font-weight:400;color:#38383d;transform:scaleX(0.9500);">$110K</div>
<div class="t" style="left:529.9px;top:1094.83px;font-size:24.2px;font-weight:400;color:#38383d;transform:scaleX(0.9355);">$82.5K</div>
<div class="t" style="left:549.3px;top:1175.83px;font-size:24.2px;font-weight:400;color:#38383d;transform:scaleX(0.9232);">$55K</div>
<div class="t" style="left:529.9px;top:1255.83px;font-size:24.2px;font-weight:400;color:#38383d;transform:scaleX(0.9355);">$22.5K</div>
<div class="t" style="left:577.4px;top:1335.83px;font-size:24.2px;font-weight:400;color:#38383d;transform:scaleX(0.9077);">$0</div>
<div class="t" style="left:715.1px;top:1377.43px;font-size:24.2px;font-weight:400;color:#38383d;transform:scaleX(0.9693);">Apr &#x27;16</div>
<div class="t" style="left:897.3px;top:1377.43px;font-size:24.2px;font-weight:400;color:#38383d;">Jun &#x27;16</div>
<div class="t" style="left:1083.6px;top:1377.43px;font-size:24.2px;font-weight:400;color:#38383d;transform:scaleX(0.9538);">Aug &#x27;16</div>
<div class="t" style="left:1268.52px;top:1377.43px;font-size:24.2px;font-weight:400;color:#38383d;transform:scaleX(0.9797);">Oct &#x27;16</div>
<div class="t" style="left:1450.28px;top:1377.43px;font-size:24.2px;font-weight:400;color:#38383d;transform:scaleX(0.9615);">Dec &#x27;16</div>
<div class="t" style="left:1636.1px;top:1377.43px;font-size:24.2px;font-weight:400;color:#38383d;transform:scaleX(0.9494);">Feb &#x27;17</div>
<div class="t" style="left:1820.8px;top:1377.43px;font-size:24.2px;font-weight:400;color:#38383d;transform:scaleX(0.9747);">Apr &#x27;17</div>
<div class="t" style="left:2003.09px;top:1377.43px;font-size:24.2px;font-weight:400;color:#38383d;transform:scaleX(1.0053);">Jun &#x27;17</div>
<div class="t" style="left:2189.5px;top:1377.43px;font-size:24.2px;font-weight:400;color:#38383d;transform:scaleX(0.9488);">Aug &#x27;17</div>
<div class="t" style="left:1254.76px;top:1003.45px;font-size:26.4px;font-weight:700;color:#38383d;transform:scaleX(0.9610);-webkit-text-stroke:0.58px #ffffff;">April 2017</div>
<div class="t" style="left:1294.5px;top:1059.4px;font-size:26px;font-weight:400;color:#6c6c71;">Customer Updates</div>
<div class="t" style="left:1549.52px;top:1059.69px;font-size:26px;font-weight:700;color:#4a4a4f;transform:scaleX(0.9781);-webkit-text-stroke:0.57px #ffffff;">$87,540</div>
<div class="t" style="left:1681.83px;top:1059.4px;font-size:26px;font-weight:400;color:#6c6c71;transform:scaleX(0.9680);">57%</div>
<div class="t" style="left:1293.5px;top:1108.9px;font-size:26px;font-weight:400;color:#6c6c71;">Retries</div>
<div class="t" style="left:1549.52px;top:1109.19px;font-size:26px;font-weight:700;color:#4a4a4f;transform:scaleX(0.9781);-webkit-text-stroke:0.57px #ffffff;">$14,577</div>
<div class="t" style="left:1680.82px;top:1108.9px;font-size:26px;font-weight:400;color:#6c6c71;transform:scaleX(0.9878);">12%</div>
<div class="t" style="left:1293.31px;top:1196.89px;font-size:26px;font-weight:700;color:#6a6a6f;transform:scaleX(0.9565);-webkit-text-stroke:0.57px #ffffff;">Dunning v6</div>
<div class="t" style="left:1435.84px;top:1196.6px;font-size:26px;font-weight:400;color:#6c6c71;transform:scaleX(0.9312);">(10 Days)</div>
<div class="t" style="left:1294.55px;top:1245.6px;font-size:26px;font-weight:400;color:#6c6c71;transform:scaleX(0.9534);">Jun 25, 2016 09:15</div>
<div class="t" style="left:2159.01px;top:1503.18px;font-size:28.5px;font-weight:400;color:#2a6ea5;transform:scaleX(0.9466);">Download CSV</div>
<div class="t" style="left:919.89px;top:1593.6px;font-size:24px;font-weight:400;color:#6c6c71;transform:scaleX(1.0055);">Revenue from All Invoices</div>
<div class="t" style="left:1699.91px;top:1593.6px;font-size:24px;font-weight:400;color:#6c6c71;transform:scaleX(0.9928);">Recovered Invoices</div>
<div class="t" style="left:507.79px;top:1632.9px;font-size:24px;font-weight:400;color:#6c6c71;transform:scaleX(1.0030);">Invoice Created</div>
<div class="t" style="left:507.74px;top:1667.2px;font-size:24px;font-weight:400;color:#6c6c71;transform:scaleX(1.0303);">Period</div>
<div class="t" style="left:852.34px;top:1667.2px;font-size:24px;font-weight:400;color:#6c6c71;transform:scaleX(1.0614);">Total Billed</div>
<div class="t" style="left:1103.46px;top:1667.2px;font-size:24px;font-weight:400;color:#6c6c71;transform:scaleX(0.9688);">Past Due</div>
<div class="t" style="left:1243.92px;top:1667.2px;font-size:24px;font-weight:400;color:#6c6c71;transform:scaleX(0.9848);">Successful Retries</div>
<div class="t" style="left:1480.89px;top:1667.2px;font-size:24px;font-weight:400;color:#6c6c71;transform:scaleX(1.0126);">Customer Updates</div>
<div class="t" style="left:1733.89px;top:1667.2px;font-size:24px;font-weight:400;color:#6c6c71;transform:scaleX(1.0146);">Total Recovered</div>
<div class="t" style="left:1972.91px;top:1667.2px;font-size:24px;font-weight:400;color:#6c6c71;transform:scaleX(0.9894);">Still Past Due</div>
<div class="t" style="left:2159.4px;top:1667.2px;font-size:24px;font-weight:400;color:#6c6c71;">Not Recovered</div>
<div class="t" style="left:507.94px;top:1746.79px;font-size:24.6px;font-weight:400;color:#444449;transform:scaleX(0.9320);">Nov 2016</div>
<div class="t" style="left:861.2px;top:1746.79px;font-size:24.6px;font-weight:400;color:#444449;transform:scaleX(0.9320);">$1,679,842</div>
<div class="t" style="left:1031.34px;top:1746.79px;font-size:24.6px;font-weight:400;color:#444449;transform:scaleX(0.9320);">$150,879</div>
<div class="t" style="left:1165.78px;top:1746.79px;font-size:24.6px;font-weight:400;color:#8e8e93;transform:scaleX(0.9320);">9%</div>
<div class="t" style="left:1357.38px;top:1746.79px;font-size:24.6px;font-weight:400;color:#444449;transform:scaleX(0.9320);">$10,569</div>
<div class="t" style="left:1600.38px;top:1746.79px;font-size:24.6px;font-weight:400;color:#444449;transform:scaleX(0.9320);">$89,654</div>
<div class="t" style="left:1741.34px;top:1746.79px;font-size:24.6px;font-weight:400;color:#444449;transform:scaleX(0.9320);">$100,223</div>
<div class="t" style="left:1863.66px;top:1746.79px;font-size:24.6px;font-weight:400;color:#8e8e93;transform:scaleX(0.9320);">66%</div>
<div class="t" style="left:2018.24px;top:1746.79px;font-size:24.6px;font-weight:400;color:#444449;transform:scaleX(0.9320);">$0</div>
<div class="t" style="left:2081.78px;top:1743.79px;font-size:24.6px;font-weight:400;color:#8e8e93;transform:scaleX(0.9320);">0%</div>
<div class="t" style="left:2170.38px;top:1746.79px;font-size:24.6px;font-weight:400;color:#444449;transform:scaleX(0.9320);">$50,656</div>
<div class="t" style="left:2273.66px;top:1743.79px;font-size:24.6px;font-weight:400;color:#8e8e93;transform:scaleX(0.9320);">34%</div>
<div class="t" style="left:508.87px;top:1832.59px;font-size:24.6px;font-weight:400;color:#444449;transform:scaleX(0.9320);">Oct 2016</div>
<div class="t" style="left:861.2px;top:1832.59px;font-size:24.6px;font-weight:400;color:#444449;transform:scaleX(0.9320);">$1,534,679</div>
<div class="t" style="left:1031.34px;top:1832.59px;font-size:24.6px;font-weight:400;color:#444449;transform:scaleX(0.9320);">$163,789</div>
<div class="t" style="left:1154.6px;top:1832.59px;font-size:24.6px;font-weight:400;color:#8e8e93;transform:scaleX(0.9320);">11%</div>
<div class="t" style="left:1357.38px;top:1832.59px;font-size:24.6px;font-weight:400;color:#444449;transform:scaleX(0.9320);">$32,494</div>
<div class="t" style="left:1600.38px;top:1832.59px;font-size:24.6px;font-weight:400;color:#444449;transform:scaleX(0.9320);">$79,135</div>
<div class="t" style="left:1745.06px;top:1832.59px;font-size:24.6px;font-weight:400;color:#444449;transform:scaleX(0.9320);">$111,629</div>
<div class="t" style="left:1863.66px;top:1832.59px;font-size:24.6px;font-weight:400;color:#8e8e93;transform:scaleX(0.9320);">68%</div>
<div class="t" style="left:2018.24px;top:1832.59px;font-size:24.6px;font-weight:400;color:#444449;transform:scaleX(0.9320);">$0</div>
<div class="t" style="left:2081.78px;top:1829.59px;font-size:24.6px;font-weight:400;color:#8e8e93;transform:scaleX(0.9320);">0%</div>
<div class="t" style="left:2170.38px;top:1832.59px;font-size:24.6px;font-weight:400;color:#444449;transform:scaleX(0.9320);">$52,160</div>
<div class="t" style="left:2273.66px;top:1829.59px;font-size:24.6px;font-weight:400;color:#8e8e93;transform:scaleX(0.9320);">32%</div>
<div class="t" style="left:508.87px;top:1918.79px;font-size:24.6px;font-weight:400;color:#444449;transform:scaleX(0.9320);">Sep 2016</div>
<div class="t" style="left:861.2px;top:1918.79px;font-size:24.6px;font-weight:400;color:#444449;transform:scaleX(0.9320);">$1,896,573</div>
<div class="t" style="left:1031.34px;top:1918.79px;font-size:24.6px;font-weight:400;color:#444449;transform:scaleX(0.9320);">$135,666</div>
<div class="t" style="left:1165.78px;top:1918.79px;font-size:24.6px;font-weight:400;color:#8e8e93;transform:scaleX(0.9320);">7%</div>
<div class="t" style="left:1357.38px;top:1918.79px;font-size:24.6px;font-weight:400;color:#444449;transform:scaleX(0.9320);">$15,743</div>
<div class="t" style="left:1600.38px;top:1918.79px;font-size:24.6px;font-weight:400;color:#444449;transform:scaleX(0.9320);">$62,281</div>
<div class="t" style="left:1754.38px;top:1918.79px;font-size:24.6px;font-weight:400;color:#444449;transform:scaleX(0.9320);">$78,024</div>
<div class="t" style="left:1863.66px;top:1918.79px;font-size:24.6px;font-weight:400;color:#8e8e93;transform:scaleX(0.9320);">58%</div>
<div class="t" style="left:2018.24px;top:1918.79px;font-size:24.6px;font-weight:400;color:#444449;transform:scaleX(0.9320);">$0</div>
<div class="t" style="left:2081.78px;top:1915.79px;font-size:24.6px;font-weight:400;color:#8e8e93;transform:scaleX(0.9320);">0%</div>
<div class="t" style="left:2170.38px;top:1918.79px;font-size:24.6px;font-weight:400;color:#444449;transform:scaleX(0.9320);">$57,642</div>
<div class="t" style="left:2273.66px;top:1915.79px;font-size:24.6px;font-weight:400;color:#8e8e93;transform:scaleX(0.9320);">42%</div>
</body></html>
